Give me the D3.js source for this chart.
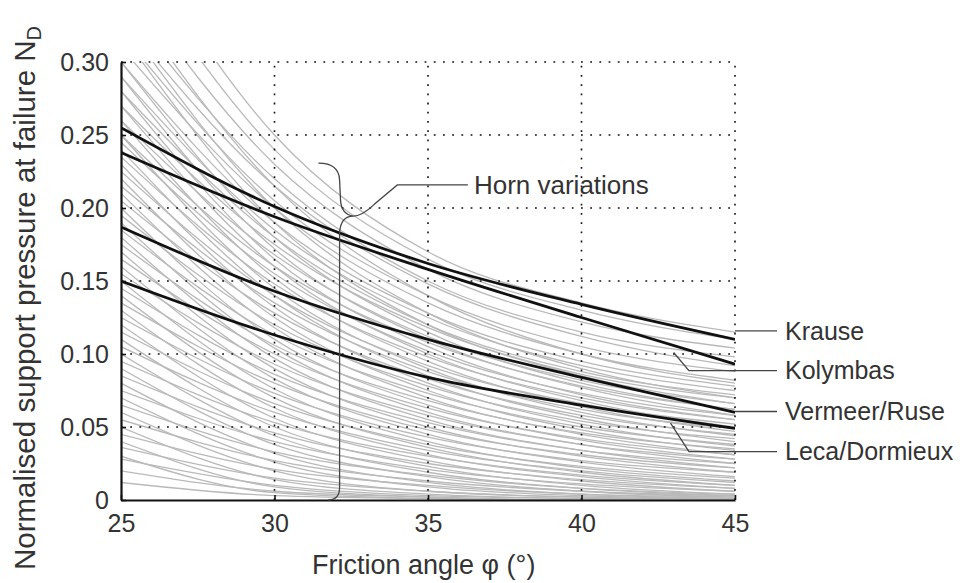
<!DOCTYPE html>
<html>
<head>
<meta charset="utf-8">
<script src="https://cdn.jsdelivr.net/npm/d3@7"></script>
<style>
  html, body { margin: 0; padding: 0; background: #fff; }
  svg { display: block; font-family: "Liberation Sans", Arial, Helvetica, sans-serif; }
</style>
</head>
<body>
<svg id="chart" width="965" height="583"></svg>
<script>
// ---------- DATA ----------
const phi = [25, 30, 35, 40, 45];
const xTicks = [25, 30, 35, 40, 45];
const yTicks = [0, 0.05, 0.10, 0.15, 0.20, 0.25, 0.30];
const yTickLabels = ["0", "0.05", "0.10", "0.15", "0.20", "0.25", "0.30"];

const krause    = [0.255, 0.201, 0.162, 0.134, 0.110];
const kolymbas  = [0.238, 0.194, 0.158, 0.125, 0.093];
const vermeer   = [0.187, 0.143, 0.110, 0.084, 0.060];
const leca      = [0.150, 0.113, 0.084, 0.065, 0.049];
const seriesNames = ["Krause", "Kolymbas", "Vermeer/Ruse", "Leca/Dormieux"];
const labelValues = [0.1158, 0.0886, 0.0606, 0.0332];

// Horn variations (grey curves), value at phi = 25, 30, 35, 40, 45
const horn25 = [0.40,0.38,0.36,0.34,0.33,0.35,0.32,0.31,0.33,0.30,0.29,0.32,0.28,0.30,0.27,0.29,0.26,0.28,0.25,0.27,0.245,0.26,0.235,0.25,0.225,0.24,0.215,0.23,0.205,0.22,0.195,0.21,0.185,0.20,0.175,0.19,0.165,0.18,0.155,0.17,0.145,0.16,0.135,0.15,0.125,0.14,0.115,0.13,0.105,0.12,0.095,0.11,0.085,0.10,0.075,0.09,0.065,0.08,0.055,0.07,0.045,0.06,0.036,0.05,0.028,0.04,0.020,0.030,0.012];
const horn30 = [0.25,0.24,0.23,0.22,0.215,0.215,0.205,0.20,0.20,0.19,0.185,0.19,0.18,0.18,0.175,0.172,0.168,0.165,0.16,0.16,0.155,0.152,0.148,0.145,0.14,0.14,0.135,0.132,0.128,0.125,0.12,0.118,0.113,0.11,0.106,0.104,0.10,0.097,0.093,0.09,0.086,0.083,0.08,0.076,0.073,0.07,0.066,0.063,0.06,0.056,0.053,0.05,0.046,0.044,0.04,0.038,0.033,0.032,0.027,0.026,0.021,0.020,0.015,0.014,0.010,0.009,0.006,0.005,0.003];
const horn35 = [0.17,0.165,0.158,0.15,0.148,0.14,0.14,0.135,0.128,0.128,0.125,0.12,0.12,0.115,0.118,0.11,0.112,0.105,0.108,0.10,0.102,0.095,0.098,0.09,0.092,0.085,0.088,0.08,0.083,0.075,0.078,0.07,0.073,0.065,0.068,0.06,0.063,0.055,0.058,0.05,0.053,0.045,0.048,0.04,0.043,0.036,0.038,0.031,0.034,0.027,0.030,0.023,0.025,0.019,0.021,0.016,0.017,0.012,0.013,0.009,0.010,0.006,0.006,0.004,0.003,0.002,0.002,0.001,0.001];
const horn40 = [0.135,0.13,0.122,0.115,0.112,0.10,0.105,0.10,0.09,0.095,0.092,0.085,0.088,0.08,0.086,0.077,0.082,0.072,0.078,0.068,0.073,0.064,0.07,0.06,0.066,0.056,0.062,0.052,0.058,0.048,0.054,0.045,0.05,0.041,0.046,0.038,0.042,0.034,0.038,0.03,0.034,0.026,0.031,0.022,0.027,0.019,0.023,0.016,0.020,0.013,0.017,0.010,0.014,0.008,0.011,0.006,0.008,0.004,0.006,0.003,0.004,0.002,0.002,0.001,0.001,0.0,0.0,0.0,0.0];
const horn45 = [0.115,0.11,0.104,0.098,0.092,0.08,0.088,0.082,0.07,0.078,0.075,0.066,0.072,0.062,0.07,0.058,0.066,0.055,0.062,0.05,0.058,0.047,0.055,0.044,0.052,0.04,0.049,0.037,0.045,0.034,0.042,0.031,0.038,0.028,0.035,0.025,0.031,0.022,0.028,0.019,0.025,0.016,0.022,0.013,0.019,0.010,0.015,0.008,0.012,0.006,0.010,0.004,0.008,0.003,0.006,0.002,0.004,0.001,0.003,0.001,0.002,0.0,0.001,0.0,0.0,0.0,0.0,0.0,0.0];

// ---------- LAYOUT ----------
const svg = d3.select("#chart");
const x = d3.scaleLinear().domain([25, 45]).range([121, 735]);
const y = d3.scaleLinear().domain([0, 0.30]).range([500, 62]);

svg.append("defs").append("clipPath").attr("id", "plotClip")
  .append("rect")
  .attr("x", x(25)).attr("y", y(0.30))
  .attr("width", x(45) - x(25)).attr("height", y(0) - y(0.30));

const line = d3.line()
  .x((d, i) => x(phi[i]))
  .y(d => y(d))
  .curve(d3.curveMonotoneX);

// grey Horn curves
const plot = svg.append("g").attr("clip-path", "url(#plotClip)");
const hornCurves = horn25.map((v, i) => [horn25[i], horn30[i], horn35[i], horn40[i], horn45[i]]);
plot.append("g").selectAll("path").data(hornCurves).join("path")
  .attr("d", line)
  .attr("fill", "none")
  .attr("stroke", "#b9b9b9")
  .attr("stroke-width", 1.3);

// grid (dotted)
const grid = svg.append("g");
grid.selectAll("line.h").data(yTicks.filter(v => v > 0)).join("line")
  .attr("x1", x(25)).attr("x2", x(45))
  .attr("y1", d => y(d)).attr("y2", d => y(d))
  .attr("stroke", "#111").attr("stroke-width", 1.6)
  .attr("stroke-dasharray", "1.8,7.4");
grid.selectAll("line.v").data(xTicks.filter(v => v > 25)).join("line")
  .attr("y1", y(0)).attr("y2", y(0.30))
  .attr("x1", d => x(d)).attr("x2", d => x(d))
  .attr("stroke", "#111").attr("stroke-width", 1.6)
  .attr("stroke-dasharray", "1.8,7.4");

// black model curves
const models = [krause, kolymbas, vermeer, leca];
plot.append("g").selectAll("path").data(models).join("path")
  .attr("d", line)
  .attr("fill", "none")
  .attr("stroke", "#111")
  .attr("stroke-width", 2.8);

// axes
const yAxis = d3.axisLeft(y).tickValues(yTicks)
  .tickFormat((d, i) => yTickLabels[i])
  .tickSizeInner(-5).tickSizeOuter(0).tickPadding(12);
const xAxis = d3.axisBottom(x).tickValues(xTicks)
  .tickFormat(d3.format("d"))
  .tickSizeInner(-5).tickSizeOuter(0).tickPadding(14);

const gy = svg.append("g").attr("transform", `translate(${x(25)},0)`).call(yAxis);
const gx = svg.append("g").attr("transform", `translate(0,${y(0)})`).call(xAxis);
[gx, gy].forEach(g => {
  g.select(".domain").attr("stroke", "#111").attr("stroke-width", 2.2);
  g.selectAll(".tick line").attr("stroke", "#111").attr("stroke-width", 1.6);
  g.selectAll(".tick text").attr("fill", "#333")
    .style("font-size", "25px")
    .style("font-family", "'Liberation Sans', Arial, sans-serif");
});

// axis titles
svg.append("text")
  .attr("x", 312).attr("y", 574)
  .attr("fill", "#333")
  .style("font-size", "27px")
  .text("Friction angle  \u03C6 (\u00B0)");

const yt = svg.append("text")
  .attr("transform", "translate(35,570) rotate(-90)")
  .attr("fill", "#333")
  .style("font-size", "29.5px");
yt.append("tspan").text("Normalised support pressure at failure N");
yt.append("tspan").attr("dy", "0.3em").style("font-size", "20px").text("D");

// right-hand labels with leader lines
const ann = svg.append("g").attr("fill", "none").attr("stroke", "#444").attr("stroke-width", 1.3);
const labelX1 = 777;
const leaders = [
  [[x(45), y(labelValues[0])], [labelX1, y(labelValues[0])]],
  [[x(43.0), y(0.101)], [x(43.5), y(labelValues[1])], [labelX1, y(labelValues[1])]],
  [[x(45), y(labelValues[2])], [labelX1, y(labelValues[2])]],
  [[x(42.9), y(0.0527)], [x(43.5), y(labelValues[3])], [labelX1, y(labelValues[3])]]
];
ann.selectAll("path").data(leaders).join("path")
  .attr("d", d => d3.line()(d));
svg.append("g").selectAll("text").data(seriesNames).join("text")
  .attr("x", 785)
  .attr("y", (d, i) => y(labelValues[i]))
  .attr("dy", "0.35em")
  .attr("fill", "#333")
  .style("font-size", "25px")
  .text(d => d);

// Horn variations brace
const p = d3.path();
const P = (a, b) => [x(a), y(b)];
let q;
q = P(31.43, 0.2308); p.moveTo(q[0], q[1]);
p.quadraticCurveTo(...P(32.10, 0.2308), ...P(32.12, 0.2192));
p.lineTo(...P(32.15, 0.2055));
p.quadraticCurveTo(...P(32.18, 0.1955), ...P(32.57, 0.1945));
p.quadraticCurveTo(...P(32.85, 0.1945), ...P(33.25, 0.2025));
p.lineTo(...P(34.00, 0.2158));
p.lineTo(...P(36.30, 0.2158));
q = P(32.57, 0.1945); p.moveTo(q[0], q[1]);
p.quadraticCurveTo(...P(32.15, 0.1945), ...P(32.12, 0.1830));
p.lineTo(...P(32.12, 0.0085));
p.quadraticCurveTo(...P(32.12, 0.0), ...P(31.75, 0.0));
ann.append("path").attr("d", p.toString());
svg.append("text")
  .attr("x", x(36.30) + 6).attr("y", y(0.2158))
  .attr("dy", "0.35em")
  .attr("fill", "#333")
  .style("font-size", "26px")
  .text("Horn variations");
</script>
</body>
</html>
